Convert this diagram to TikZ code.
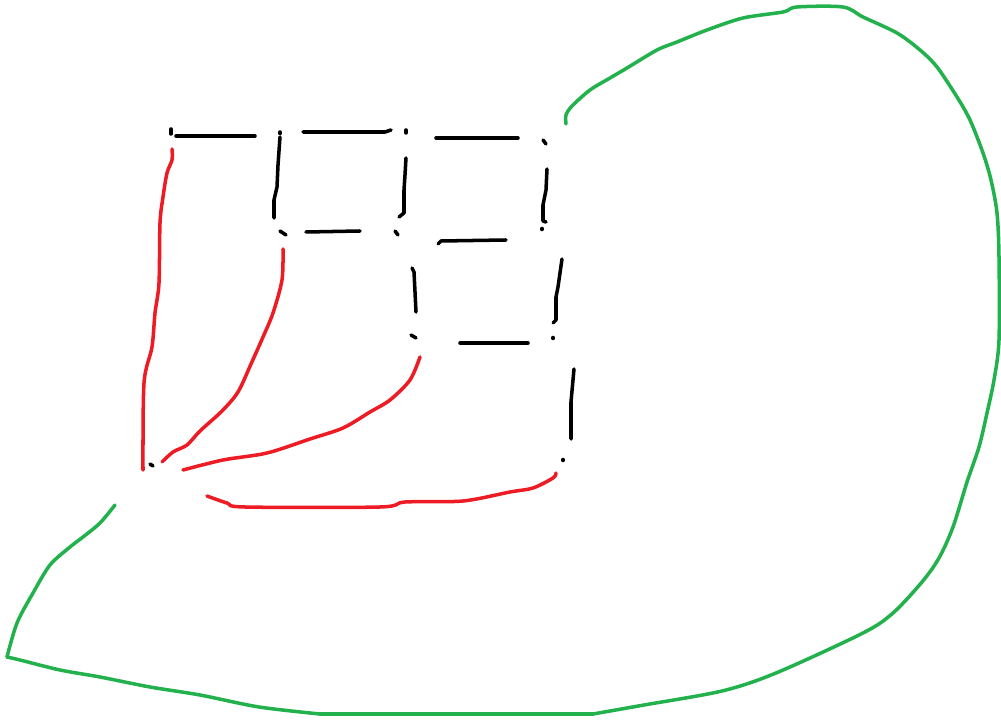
\documentclass[tikz,border=0pt]{standalone}
\definecolor{pred}{RGB}{237,28,36}
\definecolor{pgreen}{RGB}{34,177,76}
\begin{document}
\begin{tikzpicture}[x=0.02cm,y=-0.02cm,
  pen/.style={line width=2pt,line cap=round,line join=round},
  ink/.style={pen,black},
  redink/.style={pen,pred},
  greenink/.style={pen,pgreen}]
\useasboundingbox (0,0) rectangle (1001,722);
% black dashed squares
\draw[ink] (171,129)--(171,134);
\draw[ink] (176,136)--(255,136);
\draw[ink] (280,132)--(280,133.5);
\draw[ink] (280,137)--(278,165)--(277,187)--(274,200)--(274,218);
\draw[ink] (303,132)--(385,132)--(391,130);
\draw[ink] (406,130)--(406,133);
\draw[ink] (406,158)--(405,175)--(404,190)--(404,213)--(399,217);
\draw[ink] (436,138)--(518,138);
\draw[ink] (543,140)--(546,144);
\draw[ink] (547,169)--(546,190)--(543,205)--(543,221)--(546,222);
\draw[ink] (542,228.5)--(542,229.5);
\draw[ink] (280,231)--(286,235);
\draw[ink] (306,232)--(360,231);
\draw[ink] (395,231)--(398,235);
\draw[ink] (438,244)--(441,241)--(506,240);
\draw[ink] (412,268)--(414,272)--(415,292)--(416,312);
\draw[ink] (411,335)--(416,338);
\draw[ink] (460,343)--(528,343);
\draw[ink] (562,259)--(558,287)--(556,297)--(556,320)--(553,323);
\draw[ink] (553,337.5)--(553,338.5);
\draw[ink] (574,369)--(571,402)--(571,439);
\draw[ink] (563,459.5)--(563,460.5);
\draw[ink] (150,464)--(153,466);
% red strokes
\draw[redink] plot[smooth] coordinates {(172,149)(172,160)(167,173)(163,197)(160,223)(159,283)(155,313)(152,347)(144,383)(143,470)};
\draw[redink] plot[smooth] coordinates {(283,249)(282,280)(273,313)(263,337)(251,364)(238,392)(222,411)(200,431)(187,445)(173,452)(162,462)};
\draw[redink] plot[smooth] coordinates {(420,357)(410,380)(390,400)(370,412)(343,428)(310,439)(267,453)(223,460)(183,470)};
\draw[redink] plot[smooth] coordinates {(207,496)(227,503)(245,507)(380,507)(405,502)(463,501)(510,492)(533,488)(553,478)(556,473)};
% green outline
\draw[greenink] plot[smooth] coordinates {(115,505)(100,523)(83,537)(70,547)(50,565)(33,593)(17,623)(7,657)};
\draw[greenink] plot[smooth] coordinates {(7,657)(20,660)(60,670)(100,677)(150,687)(200,695)(259,707)(320,714)};
\draw[greenink] (320,714)--(593,714);
\draw[greenink] plot[smooth] coordinates {(593,714)(644,705)(722,691)(776,673)(863,633)(893,613)(922,582)(939,558)(953,527)(967,482)(979,447)(987,413)(994,380)(999,340)(999,257)(997,213)(991,180)(983,153)(970,120)(957,97)(937,67)(920,50)(897,33)(863,17)(843,7)(797,7)(783,12)(743,18)(707,30)(677,42)(657,50)(627,68)(610,78)(590,90)(572,106)(566,115)(566,124)};
\end{tikzpicture}
\end{document}
